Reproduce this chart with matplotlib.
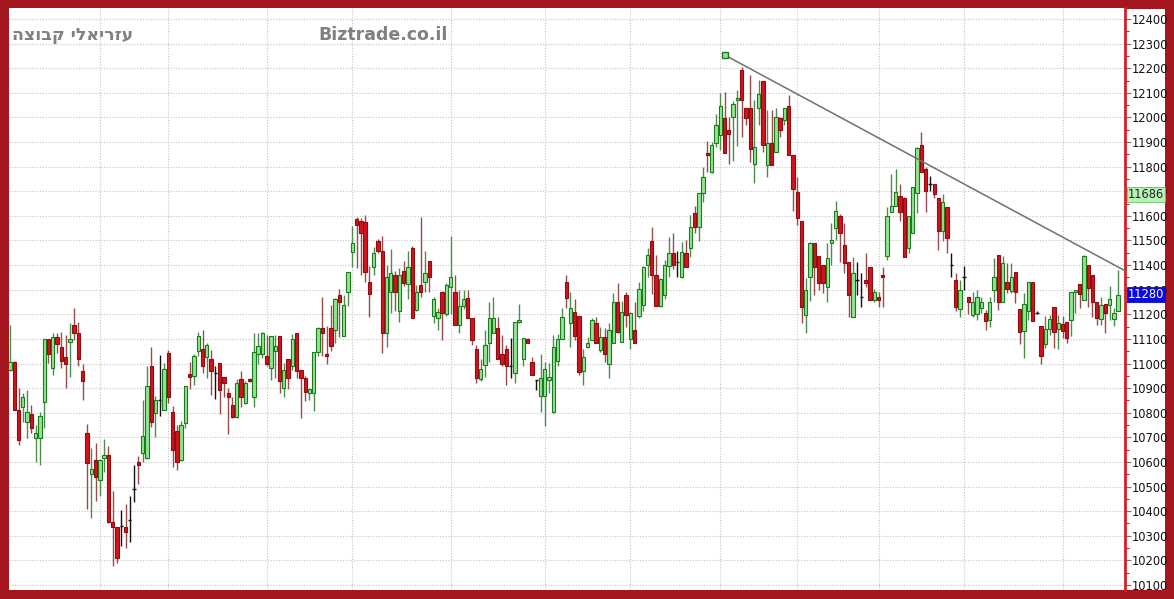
# Candlestick chart of the index with a falling trend line, framed like the trading site screenshot
import numpy as np
import matplotlib
matplotlib.use("Agg")
import matplotlib.pyplot as plt
import matplotlib.transforms as mtransforms
from matplotlib.patches import Rectangle

# daily bars: open, high, low, close
opens = [10975, 11008, 10812, 10822, 10764, 10794, 10697, 10697, 10845, 11099,
         10981, 11107, 11066, 11028, 11086, 11157, 11126, 10971, 10717, 10550,
         10606, 10527, 10618, 10629, 10354, 10335, 10340, 10335, 10365, 10491,
         10600, 10636, 10615, 10990, 10800, 10852, 10812, 11042, 10805, 10724,
         10606, 10757, 10958, 10950, 11049, 11058, 11026, 11018, 10960, 11001,
         10947, 10880, 10832, 10782, 10937, 10839, 10937, 10863, 11040, 11040,
         11031, 10981, 11049, 11110, 10900, 11018, 10988, 11126, 10972, 10941,
         10882, 10882, 11045, 11144, 11040, 11144, 11137, 11279, 11113, 11289,
         11455, 11586, 11581, 11577, 11333, 11394, 11499, 11459, 11126, 11292,
         11360, 11215, 11378, 11323, 11468, 11219, 11319, 11333, 11418, 11192,
         11183, 11292, 11201, 11310, 11292, 11157, 11232, 11265, 11184, 11058,
         10936, 10994, 11085, 11126, 11143, 11039, 11058, 10990, 10963, 11167,
         11017, 11099, 11008, 10933, 10868, 10868, 10933, 10801, 11010, 11099,
         11333, 11166, 11211, 11193, 10971, 11069, 11096, 11166, 11055, 11109,
         10998, 11085, 11251, 11089, 11278, 11098, 11136, 11193, 11238, 11400,
         11499, 11360, 11234, 11279, 11396, 11448, 11414, 11350, 11448, 11468,
         11613, 11556, 11691, 11857, 11780, 11897, 11928, 11996, 11949, 12000,
         12070, 12192, 12037, 12037, 11812, 12037, 12149, 11806, 11897, 11861,
         11996, 11989, 12046, 11847, 11698, 11580, 11197, 11350, 11491, 11437,
         11400, 11310, 11491, 11549, 11600, 11482, 11414, 11190, 11340, 11272,
         11339, 11391, 11258, 11272, 11360, 11437, 11617, 11640, 11681, 11671,
         11468, 11529, 11691, 11888, 11790, 11730, 11730, 11672, 11540, 11638,
         11401, 11340, 11221, 11350, 11269, 11198, 11202, 11225, 11207, 11175,
         11299, 11441, 11252, 11333, 11296, 11370, 11221, 11134, 11215, 11333,
         11207, 11153, 11080, 11140, 11231, 11140, 11161, 11167, 11175, 11292,
         11323, 11258, 11401, 11360, 11252, 11181, 11242, 11238, 11180, 11215]
highs = [11157, 11010, 10900, 10879, 10893, 10832, 10750, 10801, 11099, 11100,
         11123, 11123, 11130, 11116, 11166, 11225, 11170, 10998, 10755, 10656,
         10679, 10606, 10692, 10665, 10480, 10335, 10403, 10430, 10460, 10588,
         10625, 10852, 10990, 11066, 10868, 11035, 11001, 11055, 10828, 10751,
         10768, 10909, 11005, 11040, 11130, 11137, 11085, 11053, 10988, 11001,
         10947, 10900, 10866, 10937, 10968, 10927, 10941, 11126, 11126, 11130,
         11117, 11113, 11117, 11110, 11001, 11018, 11121, 11126, 10972, 10950,
         10900, 11045, 11150, 11272, 11153, 11238, 11266, 11302, 11279, 11370,
         11559, 11597, 11590, 11604, 11397, 11475, 11505, 11518, 11400, 11464,
         11374, 11387, 11418, 11459, 11478, 11319, 11597, 11459, 11418, 11269,
         11224, 11296, 11326, 11518, 11360, 11299, 11299, 11299, 11184, 11076,
         11018, 11137, 11252, 11269, 11191, 11116, 11076, 11103, 11170, 11242,
         11103, 11103, 11028, 10935, 11039, 11008, 11004, 11116, 11120, 11224,
         11360, 11292, 11261, 11193, 11058, 11109, 11184, 11188, 11150, 11143,
         11163, 11285, 11328, 11256, 11292, 11211, 11251, 11333, 11396, 11468,
         11556, 11441, 11346, 11421, 11515, 11532, 11458, 11495, 11502, 11603,
         11640, 11694, 11797, 11905, 11901, 12014, 12098, 12104, 12000, 12068,
         12111, 12206, 12037, 12172, 12071, 12152, 12149, 12030, 12030, 12037,
         12000, 12037, 12091, 11847, 11759, 11580, 11346, 11495, 11491, 11437,
         11400, 11488, 11570, 11662, 11607, 11570, 11414, 11432, 11414, 11367,
         11448, 11391, 11302, 11292, 11394, 11637, 11770, 11789, 11729, 11675,
         11600, 11718, 11878, 11942, 11800, 11760, 11730, 11672, 11689, 11638,
         11451, 11367, 11340, 11397, 11269, 11292, 11299, 11269, 11218, 11269,
         11428, 11441, 11437, 11407, 11410, 11370, 11221, 11288, 11333, 11333,
         11215, 11153, 11194, 11198, 11231, 11198, 11194, 11167, 11292, 11299,
         11323, 11441, 11401, 11360, 11252, 11269, 11242, 11315, 11225, 11381]
lows = [10970, 10810, 10670, 10764, 10696, 10717, 10601, 10588, 10737, 11001,
        10954, 11042, 10981, 10900, 10947, 11096, 10988, 10852, 10408, 10372,
        10443, 10460, 10561, 10350, 10178, 10189, 10257, 10250, 10274, 10439,
        10511, 10598, 10612, 10741, 10703, 10785, 10810, 10839, 10579, 10568,
        10605, 10737, 10895, 10914, 11029, 10961, 10941, 10873, 10855, 10796,
        10866, 10715, 10778, 10780, 10823, 10836, 10925, 10823, 11000, 11022,
        10991, 10934, 10941, 10882, 10863, 10896, 10972, 10941, 10778, 10846,
        10850, 10809, 11029, 11029, 10999, 11049, 11083, 11107, 11110, 11234,
        11394, 11387, 11360, 11333, 11188, 11360, 11451, 11044, 11069, 11204,
        11215, 11170, 11315, 11261, 11183, 11215, 11272, 11292, 11292, 11166,
        11137, 11096, 11194, 11201, 11157, 11123, 11221, 11183, 11076, 10920,
        10931, 10944, 11008, 11126, 11017, 10988, 10913, 10940, 10920, 11166,
        10988, 11082, 10953, 10893, 10805, 10747, 10882, 10800, 10988, 11099,
        11224, 11069, 11096, 10954, 10913, 11062, 11096, 11085, 11048, 11008,
        10940, 11085, 11123, 11089, 11150, 11058, 11085, 11184, 11215, 11353,
        11283, 11234, 11231, 11261, 11353, 11383, 11350, 11346, 11391, 11434,
        11532, 11499, 11658, 11780, 11776, 11881, 11867, 11857, 11810, 11824,
        11884, 11919, 11969, 11820, 11732, 11969, 11861, 11759, 11806, 11861,
        11922, 11969, 11847, 11621, 11563, 11163, 11123, 11255, 11278, 11299,
        11285, 11251, 11400, 11502, 11414, 11367, 11188, 11190, 11278, 11231,
        11312, 11258, 11251, 11231, 11231, 11421, 11617, 11640, 11580, 11434,
        11450, 11529, 11610, 11780, 11617, 11700, 11672, 11462, 11496, 11451,
        11350, 11215, 11188, 11299, 11202, 11188, 11177, 11207, 11137, 11150,
        11252, 11218, 11252, 11286, 11288, 11245, 11080, 11022, 11177, 11171,
        11200, 10999, 11062, 11116, 11062, 11058, 11103, 11085, 11112, 11205,
        11225, 11258, 11229, 11191, 11157, 11157, 11123, 11177, 11153, 11215]
closes = [11008, 10812, 10690, 10863, 10805, 10737, 10716, 10785, 11099, 11039,
          11109, 11080, 11012, 10998, 11099, 11126, 11017, 10931, 10595, 10572,
          10538, 10606, 10629, 10354, 10335, 10209, 10340, 10317, 10365, 10491,
          10587, 10706, 10909, 10764, 10852, 10852, 10977, 10863, 10649, 10598,
          10751, 10909, 10947, 11029, 11110, 10988, 11076, 10968, 10960, 10893,
          10920, 10863, 10782, 10920, 10866, 10920, 10927, 11045, 11070, 11126,
          10999, 11110, 11072, 10931, 10972, 10941, 11099, 10968, 10941, 10886,
          10896, 11045, 11144, 11126, 11029, 11072, 11262, 11252, 11238, 11370,
          11489, 11563, 11532, 11370, 11283, 11448, 11459, 11126, 11350, 11369,
          11292, 11360, 11329, 11391, 11184, 11292, 11292, 11369, 11350, 11261,
          11211, 11204, 11319, 11350, 11157, 11232, 11261, 11184, 11096, 10940,
          10977, 11076, 11184, 11184, 11017, 10998, 10990, 10990, 11170, 11177,
          11103, 11085, 10954, 10933, 10940, 10977, 10944, 11069, 11099, 11188,
          11265, 11224, 11112, 10967, 11028, 11082, 11177, 11085, 11106, 11039,
          11136, 11251, 11130, 11211, 11197, 11204, 11085, 11301, 11391, 11441,
          11360, 11234, 11342, 11400, 11450, 11400, 11414, 11455, 11391, 11556,
          11556, 11691, 11759, 11847, 11888, 11969, 12046, 11857, 11932, 12054,
          12077, 12070, 11996, 11870, 11878, 12095, 11888, 11897, 11806, 12000,
          11949, 12037, 11847, 11708, 11590, 11231, 11298, 11491, 11391, 11328,
          11328, 11428, 11502, 11621, 11532, 11410, 11278, 11369, 11340, 11272,
          11328, 11258, 11292, 11258, 11350, 11600, 11640, 11698, 11617, 11434,
          11600, 11718, 11874, 11780, 11700, 11730, 11689, 11540, 11658, 11509,
          11401, 11229, 11299, 11350, 11252, 11252, 11269, 11252, 11171, 11252,
          11350, 11248, 11410, 11302, 11350, 11292, 11130, 11242, 11333, 11171,
          11207, 11031, 11140, 11180, 11130, 11164, 11134, 11103, 11292, 11299,
          11283, 11437, 11306, 11252, 11184, 11238, 11204, 11261, 11207, 11279]

# bar numbers where the dotted vertical grid lines sit
month_bars = [21, 37, 60, 80, 103, 125, 145, 166, 184, 203, 223, 246]

# hand drawn trend line (bar number, price)
trend_x = [167, 262]
trend_y = [12254, 11364]

# values flagged on the price scale
last_value = 11280
other_value = 11686

FRAME = '#a5171f'

o = np.array(opens)
h = np.array(highs)
l = np.array(lows)
c = np.array(closes)
x = np.arange(len(c))

fig = plt.figure(figsize=(11.74, 5.99), dpi=100, facecolor=FRAME)
W, H = 1174.0, 599.0
# white strip behind the price labels (drawn under the axes)
fig.patches.append(Rectangle((1125 / W, 9 / H), 40 / W, 581 / H, transform=fig.transFigure,
                             facecolor='white', edgecolor='none', zorder=-5))
ax = fig.add_axes([9 / W, 9 / H, 1116 / W, 582 / H])
ax.set_facecolor('white')

# wicks
up = c > o
down = c < o
flat = c == o
ax.vlines(x[up], l[up], h[up], color='#4c8c4c', linewidth=1, zorder=2)
ax.vlines(x[down], l[down], h[down], color='#9a4a4a', linewidth=1, zorder=2)
ax.vlines(x[flat], l[flat], h[flat], color='#111111', linewidth=1, zorder=2)

# bodies
ax.bar(x[up], (c - o)[up], bottom=o[up], width=0.78, color='#8fe68f',
       edgecolor='#1f7a1f', linewidth=0.8, zorder=3)
ax.bar(x[down], (o - c)[down], bottom=c[down], width=0.78, color='#d3131c',
       edgecolor='#8b0f12', linewidth=0.8, zorder=3)
ax.hlines(c[flat], x[flat] - 0.4, x[flat] + 0.4, color='#111111', linewidth=1, zorder=3)

# trend line with its handle
ax.plot(trend_x, trend_y, color='#707070', linewidth=1.1, zorder=4)
ax.plot(trend_x[0], trend_y[0], marker='s', markersize=5, markerfacecolor='#8fe68f',
        markeredgecolor='#2e6e2e', zorder=5)

# axes: 2300 points over 566 px
ax.set_xlim(-0.23, 260.6)
ax.set_ylim(10079.7, 12444.7)
ax.set_xticks(month_bars)
ax.set_xticklabels([])
ax.tick_params(axis='x', length=0)
ax.set_yticks(np.arange(10100, 12401, 100))
ax.set_yticks(np.arange(10150, 12401, 100), minor=True)
ax.yaxis.tick_right()
ax.tick_params(axis='y', which='major', length=4, width=0.8, color='#777777',
               labelsize=8.3, pad=1, labelcolor='#111111')
ax.tick_params(axis='y', which='minor', length=3, width=0.8, color='#d02020')
ax.grid(True, which='major', color='#c4c4c4', linestyle=(0, (1, 1.5)), linewidth=0.8)
ax.set_axisbelow(True)
for s in ['top', 'left', 'bottom']:
    ax.spines[s].set_visible(False)
ax.spines['right'].set_color('#d0202a')
ax.spines['right'].set_linewidth(2)

# flagged values on the price scale
blend = mtransforms.blended_transform_factory(ax.transAxes, ax.transData)
ax.text(1.0025, other_value, str(other_value), transform=blend, fontsize=8.3, color='#222222',
        va='center', ha='left', clip_on=False, zorder=6,
        bbox=dict(boxstyle='square,pad=0.08', facecolor='#b6f2b6', edgecolor='#6cc06c', linewidth=0.6))
ax.text(1.0025, last_value, str(last_value), transform=blend, fontsize=8.3, color='white',
        va='center', ha='left', clip_on=False, zorder=6,
        bbox=dict(boxstyle='square,pad=0.08', facecolor='#0a0ae0', edgecolor='#0a0ae0', linewidth=0.6))

# watermarks
fig.text(12 / W, 1 - 35 / H, 'הצובק ילאירזע', fontsize=12.5, fontweight='bold',
         color='#808080', va='center', ha='left', family=['DejaVu Sans'])
fig.text(318 / W, 1 - 35 / H, 'Biztrade.co.il', fontsize=12.5, fontweight='bold',
         color='#808080', va='center', ha='left')

fig.savefig('out.png', dpi=100, facecolor=FRAME)
